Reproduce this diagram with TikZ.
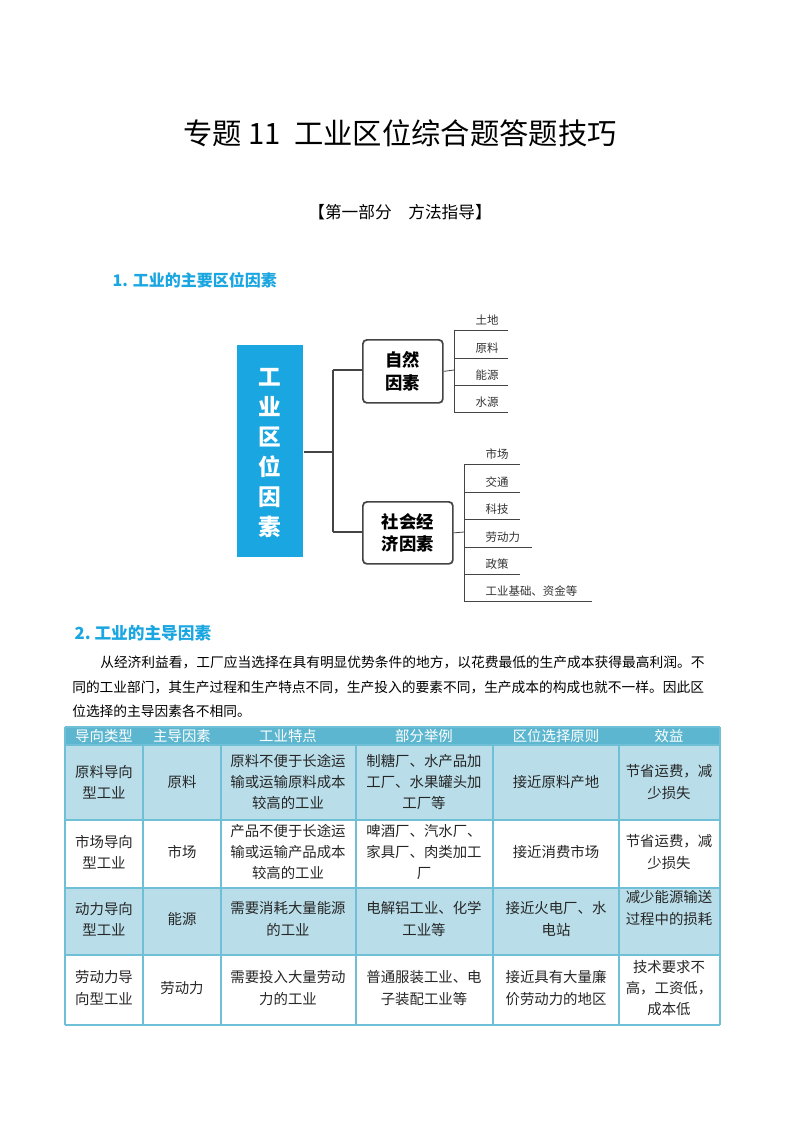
\documentclass[tikz,border=0pt]{standalone}
\usepackage{fontspec}
\setmainfont{Noto Sans CJK SC}
\newfontfamily\cjk{Noto Sans CJK SC}
\definecolor{mblue}{HTML}{1AA6E0}
\definecolor{hblue}{HTML}{5CB6CF}
\definecolor{lblue}{HTML}{B9DEE9}
\definecolor{tline}{HTML}{6FBFD6}
\definecolor{dgray}{HTML}{444444}
\begin{document}
\begin{tikzpicture}[x=0.75pt,y=-0.75pt,
  cell/.style={align=center,font=\fontsize{10.8}{16}\selectfont,text=black!85,inner sep=0pt},
  hcell/.style={align=center,font=\fontsize{10.8}{16}\selectfont,text=white,inner sep=0pt},
  fbox/.style={draw=dgray,line width=1.3pt,rounded corners=3pt},
  lab/.style={anchor=south west,font=\fontsize{8.6}{10}\selectfont,inner sep=1pt,text=black!80},
  leaf/.style={draw=dgray,line width=0.6pt},
  trunk/.style={draw=dgray,line width=2.2pt}]
\useasboundingbox (0,0) rectangle (800,1132);
\fill[white] (0,0) rectangle (800,1132);
% titles
\node[font=\fontsize{22}{24}\selectfont] (title) at (400,133) {专题 11\ \ 工业区位综合题答题技巧};
\node[font=\fontsize{12.5}{14}\selectfont] (part) at (400,212) {【第一部分\quad 方法指导】};
\node[anchor=west,font=\bfseries\fontsize{12}{14}\selectfont,text=mblue] (h1) at (108,280) {1. 工业的主要区位因素};
% mind map
\node[fill=mblue,minimum width=66*0.75pt,minimum height=212*0.75pt,inner sep=0pt,anchor=north west] (root) at (237,345) {};
\node[text=white,font=\bfseries\fontsize{17}{22.5}\selectfont,align=center] (roottxt) at (270,453) {工\\业\\区\\位\\因\\素};
\coordinate (tj) at (333,452);
\coordinate (tt) at (333,370);
\coordinate (tb) at (333,532);
\node[fbox,minimum width=80*0.75pt,minimum height=63*0.75pt,font=\bfseries\fontsize{13}{17}\selectfont,align=center,anchor=north west] (nat) at (362,339) {自然\\因素};
\node[fbox,minimum width=90*0.75pt,minimum height=62*0.75pt,font=\bfseries\fontsize{13}{17}\selectfont,align=center,anchor=north west] (soc) at (362,501) {社会经\\济因素};
\draw[trunk] (root.east|-tj) -- (tj);
\draw[trunk] (tt) -- (tb);
\draw[trunk] (tt) -- (nat.west|-tt);
\draw[trunk] (tb) -- (soc.west|-tb);
% natural leaves
\coordinate (nv1) at (454,330); \coordinate (nv2) at (454,412);
\draw[leaf] (nat.east) -- (454,370);
\draw[leaf] (nv1) -- (nv2);
\foreach \y/\t in {330/土地,358/原料,385/能源,412/水源}{
  \draw[leaf] (454,\y) -- (508,\y);
  \node[lab] at (474,\y-3) {\t};
}
% social leaves
\draw[leaf] (soc.east) -- (464,532);
\draw[leaf] (464,464) -- (464,601);
\foreach \y/\t/\e in {464/市场/520,492/交通/520,519/科技/520,547/劳动力/532,574/政策/520,601/工业基础、资金等/592}{
  \draw[leaf] (464,\y) -- (\e,\y);
  \node[lab] at (484,\y-3) {\t};
}
% section 2
\node[anchor=west,font=\bfseries\fontsize{12.5}{14}\selectfont,text=mblue] (h2) at (70,633) {2.\ 工业的主导因素};
\node[anchor=west,inner sep=0pt,font=\fontsize{10.3}{12}\selectfont] (p1) at (100,662) {从经济利益看，工厂应当选择在具有明显优势条件的地方，以花费最低的生产成本获得最高利润。不};
\node[anchor=west,inner sep=0pt,font=\fontsize{10.3}{12}\selectfont] (p2) at (72,687) {同的工业部门，其生产过程和生产特点不同，生产投入的要素不同，生产成本的构成也就不一样。因此区};
\node[anchor=west,inner sep=0pt,font=\fontsize{10.3}{12}\selectfont] (p3) at (72,711) {位选择的主导因素各不相同。};
% table
\fill[hblue] (65,727) rectangle (720,745);
\fill[lblue] (65,745) rectangle (720,820);
\fill[lblue] (65,888) rectangle (720,955);
\foreach \y in {727,745,820,888,955,1025} \draw[tline,line width=1.2pt] (65,\y) -- (720,\y);
\foreach \x in {65,720} \draw[tline,line width=1.2pt] (\x,727) -- (\x,1025);
\foreach \x in {143,221,356,493,619} \draw[tline,line width=1.2pt] (\x,745) -- (\x,1025);
\foreach \x/\t in {104/导向类型,182/主导因素,288/工业特点,424/部分举例,556/区位选择原则,669/效益}
  \node[hcell] at (\x,736) {\t};
% row 1
\node[cell] (a1) at (104,782) {原料导向\\型工业};
\node[cell] at (182,782) {原料};
\node[cell] at (288,782) {原料不便于长途运\\输或运输原料成本\\较高的工业};
\node[cell] at (424,782) {制糖厂、水产品加\\工厂、水果罐头加\\工厂等};
\node[cell] at (556,782) {接近原料产地};
\node[cell] at (669,782) {节省运费，减\\少损失};
% row 2
\node[cell] at (104,852) {市场导向\\型工业};
\node[cell] at (182,852) {市场};
\node[cell] at (288,852) {产品不便于长途运\\输或运输产品成本\\较高的工业};
\node[cell] at (424,852) {啤酒厂、汽水厂、\\家具厂、肉类加工\\厂};
\node[cell] at (556,852) {接近消费市场};
\node[cell] at (669,852) {节省运费，减\\少损失};
% row 3
\node[cell] at (104,919) {动力导向\\型工业};
\node[cell] at (182,919) {能源};
\node[cell] at (288,919) {需要消耗大量能源\\的工业};
\node[cell] at (424,919) {电解铝工业、化学\\工业等};
\node[cell] at (556,919) {接近火电厂、水\\电站};
\node[cell] at (669,908) {减少能源输送\\过程中的损耗};
% row 4
\node[cell] at (104,988) {劳动力导\\向型工业};
\node[cell] at (182,988) {劳动力};
\node[cell] at (288,988) {需要投入大量劳动\\力的工业};
\node[cell] at (424,988) {普通服装工业、电\\子装配工业等};
\node[cell] at (556,988) {接近具有大量廉\\价劳动力的地区};
\node[cell] at (669,988) {技术要求不\\高，工资低，\\成本低};
\end{tikzpicture}
\end{document}
